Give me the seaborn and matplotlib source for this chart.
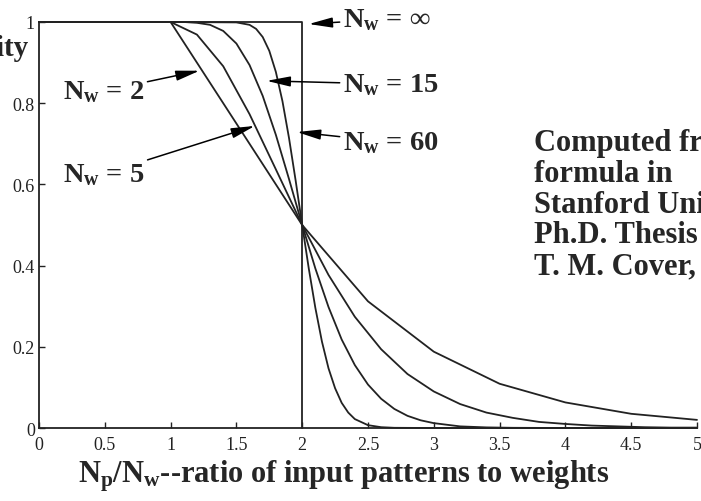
import numpy as np
import pandas as pd
import matplotlib
matplotlib.use("Agg")
import matplotlib.pyplot as plt
import seaborn as sns

# values
x_nw2 = [0, 1, 1.5, 2, 2.5, 3, 3.5, 4, 4.5, 5]
y_nw2 = [1, 1, 0.75, 0.5, 0.312, 0.188, 0.109, 0.063, 0.035, 0.02]

x_nw5 = [0, 1, 1.2, 1.4, 1.6, 1.8, 2, 2.2, 2.4, 2.6, 2.8, 3, 3.2, 3.4, 3.6, 3.8, 4, 4.2, 4.4, 4.6, 4.8, 5]
y_nw5 = [1, 1, 0.969, 0.891, 0.773, 0.637, 0.5, 0.377, 0.274, 0.194, 0.133, 0.09,
         0.059, 0.038, 0.025, 0.015, 0.01, 0.006, 0.004, 0.002, 0.001, 0.001]

x_nw15 = [0, 1, 1.1, 1.2, 1.3, 1.4, 1.5, 1.6, 1.7, 1.8, 1.9, 2, 2.1, 2.2, 2.3, 2.4,
          2.5, 2.6, 2.7, 2.8, 2.9, 3, 3.2, 3.4, 3.6, 4, 5]
y_nw15 = [1, 1, 1, 0.998, 0.993, 0.978, 0.947, 0.894, 0.818, 0.722, 0.613, 0.5, 0.393,
          0.298, 0.218, 0.155, 0.107, 0.072, 0.047, 0.03, 0.019, 0.012, 0.004, 0.0015,
          0.0005, 0, 0]

x_nw60 = [0, 1, 1.5, 1.6, 1.65, 1.7, 1.75, 1.8, 1.85, 1.9, 1.95, 2, 2.05, 2.1, 2.15,
          2.2, 2.25, 2.3, 2.35, 2.4, 2.5, 2.6, 2.7, 3, 5]
y_nw60 = [1, 1, 0.999, 0.993, 0.983, 0.963, 0.929, 0.877, 0.805, 0.714, 0.61, 0.5,
          0.393, 0.296, 0.213, 0.147, 0.098, 0.062, 0.038, 0.022, 0.007, 0.002, 0.0005, 0, 0]

x_inf = [0, 2, 2]
y_inf = [1, 1, 0]

xticks = [0, 0.5, 1, 1.5, 2, 2.5, 3, 3.5, 4, 4.5, 5]
xticklabels = ["0", "0.5", "1", "1.5", "2", "2.5", "3", "3.5", "4", "4.5", "5"]
yticks = [0, 0.2, 0.4, 0.6, 0.8, 1]
yticklabels = ["0", "0.2", "0.4", "0.6", "0.8", "1"]

sns.set_style("ticks")
plt.rcParams["font.family"] = ["Liberation Serif", "DejaVu Serif"]
plt.rcParams["mathtext.fontset"] = "custom"
plt.rcParams["mathtext.rm"] = "Liberation Serif:bold"
plt.rcParams["mathtext.it"] = "Liberation Serif:italic:bold"
plt.rcParams["mathtext.bf"] = "Liberation Serif:bold"

fig = plt.figure(figsize=(7.01, 5.02), dpi=100)
ax = fig.add_axes([0.0556, 0.1454, 0.9387, 0.8088])

curves = [(x_nw2, y_nw2), (x_nw5, y_nw5), (x_nw15, y_nw15), (x_nw60, y_nw60), (x_inf, y_inf)]
for xs, ys in curves:
    d = pd.DataFrame({"x": xs, "y": ys})
    sns.lineplot(data=d, x="x", y="y", color="#222222", lw=1.3, estimator=None,
                 sort=False, ax=ax, clip_on=False)

ax.set_xlim(0, 5)
ax.set_ylim(0, 1)
sns.despine(ax=ax)
ax.set_xticks(xticks)
ax.set_xticklabels(xticklabels)
ax.set_yticks(yticks)
ax.set_yticklabels(yticklabels)
ax.tick_params(direction="in", length=4, width=1, labelsize=13, pad=3, colors="#222222")
ax.tick_params(axis="x", pad=6)
ax.set_xlabel("")
ax.set_ylabel("")
for s in ["left", "bottom"]:
    ax.spines[s].set_linewidth(1.3)
    ax.spines[s].set_color("#222222")

arrow = dict(arrowstyle="-|>,head_length=0.7,head_width=0.15", color="black", lw=1.1,
             shrinkA=0, shrinkB=0)
fs = 20.5
ax.annotate(r"N$_\mathrm{w}$ = 2", xy=(1.22, 0.88), xytext=(0.18, 0.83), fontsize=fs,
            fontweight="bold", va="center", arrowprops=arrow)
ax.annotate(r"N$_\mathrm{w}$ = 5", xy=(1.64, 0.744), xytext=(0.18, 0.626), fontsize=fs,
            fontweight="bold", va="center", arrowprops=arrow)
ax.annotate(r"N$_\mathrm{w}$ = ∞", xy=(2.05, 0.995), xytext=(2.31, 1.007), fontsize=fs,
            fontweight="bold", va="center", arrowprops=arrow, annotation_clip=False)
ax.annotate(r"N$_\mathrm{w}$ = 15", xy=(1.73, 0.855), xytext=(2.31, 0.847), fontsize=fs,
            fontweight="bold", va="center", arrowprops=arrow)
ax.annotate(r"N$_\mathrm{w}$ = 60", xy=(1.96, 0.729), xytext=(2.31, 0.704), fontsize=fs,
            fontweight="bold", va="center", arrowprops=arrow)

fig.text(534 / 701, 1 - 129 / 502,
         "Computed from\nformula in\nStanford Univ.\nPh.D. Thesis\nT. M. Cover, 1964",
         fontsize=22, fontweight="bold", ha="left", va="top", linespacing=1.08)

fig.text(29 / 701, 1 - 56 / 502, "Probability", fontsize=21, fontweight="bold",
         ha="right", va="baseline")
fig.text(344 / 701, 1 - 483 / 502, r"N$_\mathrm{p}$/N$_\mathrm{w}$--ratio of input patterns to weights",
         fontsize=22, fontweight="bold", ha="center", va="baseline")

fig.savefig("out.png", dpi=100)
